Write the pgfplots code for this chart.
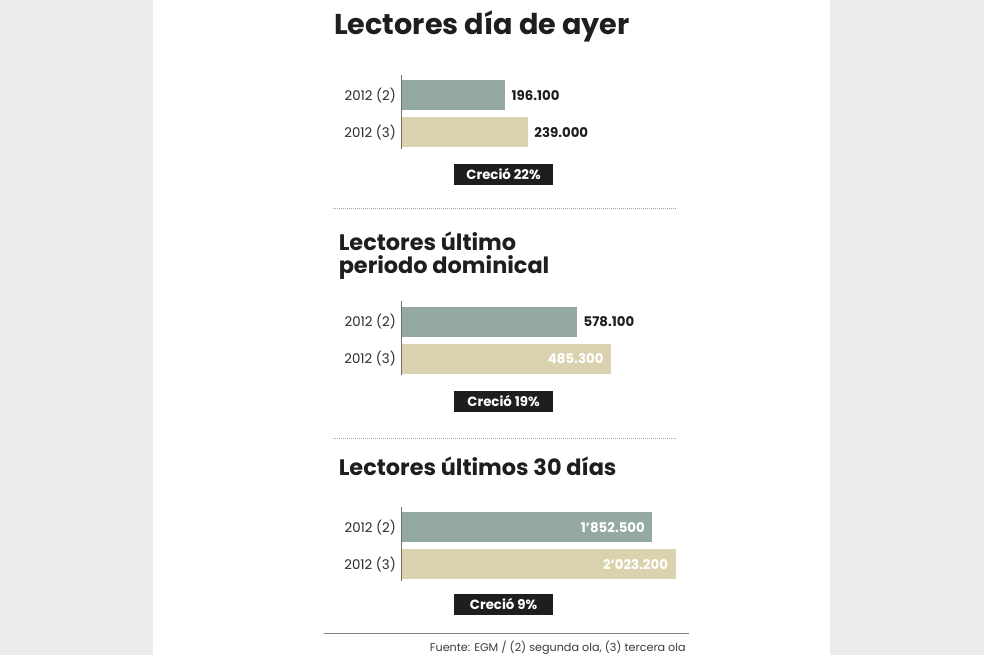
\documentclass[border=0pt]{standalone}
\usepackage{fontspec}
\setmainfont{Poppins}
\usepackage{pgfplots}
\pgfplotsset{compat=1.18}

\definecolor{bargreen}{RGB}{148,170,160}
\definecolor{barbeige}{RGB}{218,210,174}
\definecolor{bggray}{RGB}{235,235,235}
\definecolor{ink}{RGB}{30,30,30}
\definecolor{labelgray}{RGB}{45,45,45}
\definecolor{axisgray}{RGB}{110,110,110}
\definecolor{srcgray}{RGB}{60,60,60}

\pgfplotsset{
  panel/.style={
    scale only axis, height=55.5pt,
    xmin=0, ymin=-0.55, ymax=1.45, y dir=reverse,
    axis x line=none, axis y line=left,
    axis line style={-, axisgray, line width=0.9pt},
    ytick={0,1}, yticklabels={2012 (2),2012 (3)},
    major tick length=0pt,
    yticklabel style={font=\fontsize{10}{12}\selectfont, text=labelgray, inner sep=0pt, xshift=-4pt},
    xbar, bar width=22.5pt, bar shift=0pt,
    point meta=explicit symbolic,
    nodes near coords,
    every node near coord/.append style={font=\bfseries\fontsize{10}{12}\selectfont, inner sep=0pt},
    clip=false,
  },
  outlabel/.style={every node near coord/.append style={anchor=west, xshift=4.5pt, text=ink}},
  inlabel/.style={every node near coord/.append style={anchor=east, xshift=-5.5pt, text=white}},
}

\begin{document}
\begin{tikzpicture}[x=0.75pt,y=-0.75pt]
  % background: gray margins, white page
  \fill[bggray] (0,0) rectangle (984,655);
  \fill[white] (153,0) rectangle (830,655);
  \coordinate (a1) at (401.5,75);
  \coordinate (a2) at (401.5,301.5);
  \coordinate (a3) at (401.5,507);

  % --- panel 1
  \node[anchor=base west, inner sep=0pt, text=ink, font=\bfseries\fontsize{21.5}{26}\selectfont] at (334,35) {Lectores día de ayer};
  \begin{axis}[panel, at={(a1)}, anchor=north west, width=119.25pt, xmax=300]
    \addplot[fill=bargreen, draw=none, outlabel] coordinates {(196.1,0) [196.100]};
    \addplot[fill=barbeige, draw=none, outlabel] coordinates {(239.0,1) [239.000]};
  \end{axis}
  \fill[ink] (454,164) rectangle (553,185);
  \node[text=white, inner sep=0pt, font=\bfseries\fontsize{10}{12}\selectfont] at (503.5,174.5) {Creció 22\%};
  \draw[gray!70, line width=0.75pt, dash pattern=on 0.75pt off 0.75pt] (333,209) -- (676,209);

  % --- panel 2
  \node[anchor=base west, inner sep=0pt, text=ink, font=\bfseries\fontsize{16.8}{20}\selectfont] at (338.5,250.7) {Lectores último};
  \node[anchor=base west, inner sep=0pt, text=ink, font=\bfseries\fontsize{16.8}{20}\selectfont] at (338.5,274) {periodo dominical};
  \begin{axis}[panel, at={(a2)}, anchor=north west, width=217.5pt, xmax=800]
    \addplot[fill=bargreen, draw=none, outlabel] coordinates {(485.3,0) [578.100]};
    \addplot[fill=barbeige, draw=none, inlabel] coordinates {(578.1,1) [485.300]};
  \end{axis}
  \fill[ink] (454,391) rectangle (553,411.5);
  \node[text=white, inner sep=0pt, font=\bfseries\fontsize{10}{12}\selectfont] at (503.5,401.3) {Creció 19\%};
  \draw[gray!70, line width=0.75pt, dash pattern=on 0.75pt off 0.75pt] (333,438.3) -- (676,438.3);

  % --- panel 3
  \node[anchor=base west, inner sep=0pt, text=ink, font=\bfseries\fontsize{16.8}{20}\selectfont] at (338.5,475) {Lectores últimos 30 días};
  \begin{axis}[panel, at={(a3)}, anchor=north west, width=223.5pt, xmax=2200]
    \addplot[fill=bargreen, draw=none, inlabel] coordinates {(1852.5,0) [1’852.500]};
    \addplot[fill=barbeige, draw=none, inlabel] coordinates {(2023.2,1) [2’023.200]};
  \end{axis}
  \fill[ink] (454,594) rectangle (553,615);
  \node[text=white, inner sep=0pt, font=\bfseries\fontsize{10}{12}\selectfont] at (503.5,604.5) {Creció 9\%};

  % --- source
  \draw[gray, line width=0.75pt] (324,633) -- (689,633);
  \node[anchor=base east, inner sep=0pt, text=srcgray, font=\fontsize{8.4}{10}\selectfont] at (686,651) {Fuente: EGM / (2) segunda ola, (3) tercera ola};
\end{tikzpicture}
\end{document}
